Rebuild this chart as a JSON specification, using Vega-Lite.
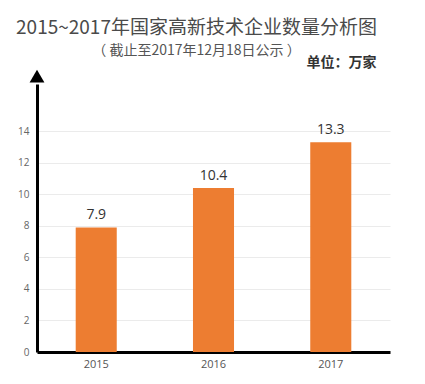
{
  "$schema": "https://vega.github.io/schema/vega-lite/v6.json",
  "width": 353,
  "height": 268,
  "autosize": "none",
  "padding": {"left": 37, "top": 84, "right": 35, "bottom": 32},
  "background": "white",
  "title": {
    "text": "2015~2017年国家高新技术企业数量分析图",
    "subtitle": "（ 截止至2017年12月18日公示 ）",
    "font": "Noto Sans CJK SC",
    "fontSize": 19,
    "fontWeight": 400,
    "color": "#4a4a4a",
    "subtitleFont": "Noto Sans CJK SC",
    "subtitleFontSize": 14,
    "subtitleColor": "#555",
    "subtitlePadding": 6,
    "anchor": "middle",
    "frame": "group",
    "dx": -17,
    "dy": 7,
    "offset": 4
  },
  "data": {
    "values": [
      {"year": "2015", "count": 7.9},
      {"year": "2016", "count": 10.4},
      {"year": "2017", "count": 13.3}
    ]
  },
  "config": {
    "view": {"stroke": null},
    "font": "Open Sans"
  },
  "encoding": {
    "x": {
      "field": "year",
      "type": "ordinal",
      "scale": {"paddingInner": 0.65, "paddingOuter": 0.33},
      "axis": {
        "title": null,
        "labelAngle": 0,
        "labelColor": "#555",
        "labelFontSize": 11,
        "labelPadding": 6,
        "ticks": false,
        "domainColor": "#000",
        "domainWidth": 3
      }
    },
    "y": {
      "field": "count",
      "type": "quantitative",
      "scale": {"domain": [0, 17], "nice": false},
      "axis": {
        "values": [0, 2, 4, 6, 8, 10, 12, 14],
        "tickCount": 8,
        "labelOverlap": false,
        "title": "单位：万家",
        "titleFont": "Noto Sans CJK SC",
        "titleFontSize": 14,
        "titleFontWeight": "bold",
        "titleColor": "#333",
        "titleAngle": 0,
        "titleAlign": "right",
        "titleBaseline": "alphabetic",
        "titleX": 339,
        "titleY": -18,
        "labelColor": "#666",
        "labelFontSize": 10,
        "labelPadding": 8,
        "ticks": false,
        "domainColor": "#000",
        "domainWidth": 3,
        "gridColor": "#ebebeb",
        "gridWidth": 1
      }
    }
  },
  "layer": [
    {
      "mark": {"type": "bar", "color": "#ED7D31"}
    },
    {
      "mark": {"type": "text", "baseline": "bottom", "dy": -5, "fontSize": 14, "color": "#333"},
      "encoding": {
        "text": {"field": "count", "type": "quantitative", "format": ".1f"}
      }
    },
    {
      "data": {"values": [{"count": 17.5}]},
      "mark": {"type": "point", "shape": "triangle-up", "filled": true, "color": "#000", "size": 220, "opacity": 1, "clip": false},
      "encoding": {
        "x": {"value": 0}
      }
    }
  ]
}
